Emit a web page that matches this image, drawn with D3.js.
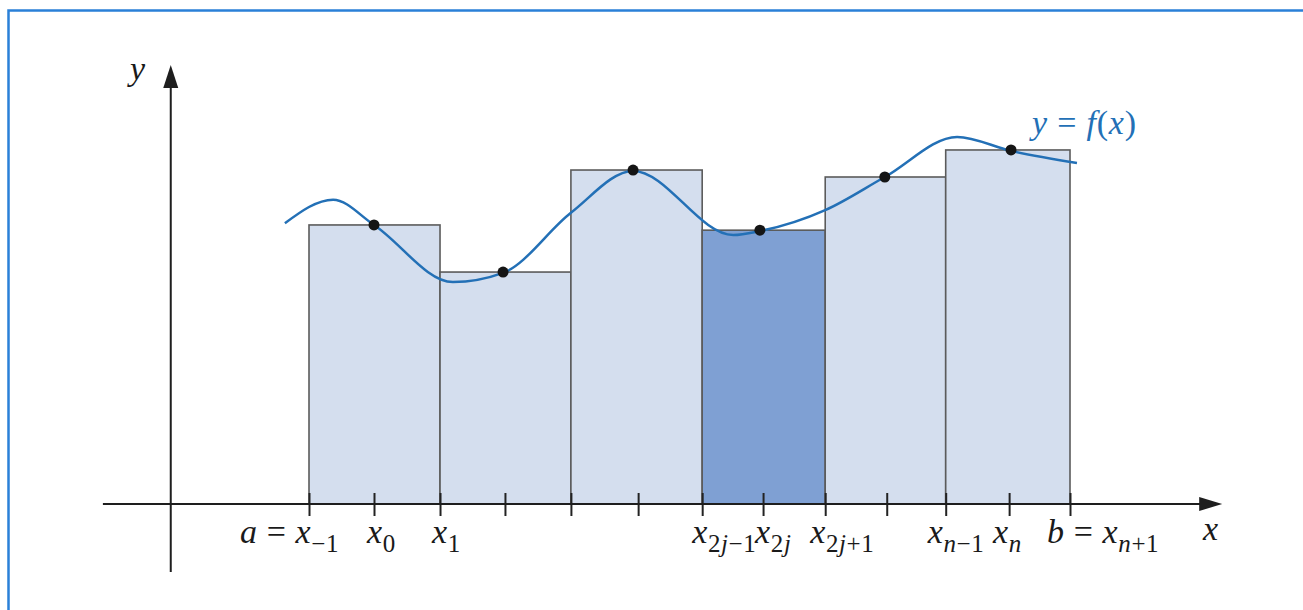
<!DOCTYPE html>
<html>
<head>
<meta charset="utf-8">
<script src="https://cdn.jsdelivr.net/npm/d3@7"></script>
<style>
  html, body { margin: 0; padding: 0; background: #fff; }
  svg { display: block; }
</style>
</head>
<body>
<svg id="chart" width="1303" height="610"></svg>
<script>
// Partition points on the x axis (a = x_-1 ... b = x_n+1)
const xTicks = [0, 1.025, 2.066, 3.09, 4.13, 5.19, 6.20, 7.16, 8.14, 9.11, 10.04, 11.04, 12];
// Rectangle edges and heights (midpoint rule: height = f(midpoint))
const barEdges = [0, 2.066, 4.13, 6.20, 8.14, 10.04, 12];
const barHeights = [6.40, 5.32, 7.66, 6.28, 7.50, 8.12];
const highlightedBar = 3;
// Sample points where f is evaluated
const sampleX = [1.025, 3.06, 5.11, 7.11, 9.08, 11.07];
// The curve y = f(x): end points, extrema and sample points
const curveX = [-0.38, 0.38, 1.025, 2.27, 3.06, 4.13, 5.11, 6.69, 7.11, 8.14, 9.08, 10.22, 11.07, 12.11];
const curveY = [6.44, 6.98, 6.40, 5.09, 5.30, 6.68, 7.64, 6.17, 6.26, 6.74, 7.50, 8.42, 8.10, 7.82];
// Labelled partition points
const labelTicks = [0, 1, 2, 6, 7, 8, 10, 11, 12];
const labelTexts = ["a = x_−1", "x_0", "x_1", "x_2j−1", "x_2j", "x_2j+1", "x_n−1", "x_n", "b = x_n+1"];
const labelDx = [-69, -7, -8, -10, -8, -15, -18, -16, -23];

// Axis extents in data units
const xAxisExtent = [-3.25, 14.4];
const yAxisExtent = [-1.56, 10.07];
const yAxisAt = -2.18;

const svg = d3.select("#chart");
const x = d3.scaleLinear().domain([0, 12]).range([309, 1070]);
const y = d3.scaleLinear().domain([0, 10]).range([504, 68]);

const FONT = "'Liberation Serif', 'Times New Roman', serif";

// Frame
svg.append("rect")
  .attr("x", 8.5).attr("y", 10.5)
  .attr("width", 1400).attr("height", 700)
  .attr("fill", "none")
  .attr("stroke", "#2a80d8")
  .attr("stroke-width", 2.5);

// Rectangles
const bars = barHeights.map((h, i) => ({ x0: barEdges[i], x1: barEdges[i + 1], h, i }));
svg.append("g").selectAll("rect").data(bars).join("rect")
  .attr("x", d => x(d.x0))
  .attr("y", d => y(d.h))
  .attr("width", d => x(d.x1) - x(d.x0))
  .attr("height", d => y(0) - y(d.h))
  .attr("fill", d => d.i === highlightedBar ? "#7fa0d3" : "#d4deee")
  .attr("stroke", "#5b5b5b")
  .attr("stroke-width", 1.6);

// x axis ticks (both sides of the axis)
const xAxis = d3.axisBottom(x).tickValues(xTicks).tickFormat("").tickSizeOuter(0);
const gx = svg.append("g").attr("transform", `translate(0,${y(0)})`).call(xAxis);
gx.select(".domain").remove();
gx.selectAll(".tick line")
  .attr("y1", -11).attr("y2", 12)
  .attr("stroke", "#222").attr("stroke-width", 2);

// Axis lines with arrowheads
const axisColor = "#1e1e1e";
const tipX = x(xAxisExtent[1]), tipY = y(yAxisExtent[1]);
svg.append("line")
  .attr("x1", x(xAxisExtent[0])).attr("x2", tipX - 20)
  .attr("y1", y(0)).attr("y2", y(0))
  .attr("stroke", axisColor).attr("stroke-width", 2);
svg.append("path")
  .attr("d", `M${tipX},${y(0)} L${tipX - 23},${y(0) - 7} L${tipX - 23},${y(0) + 7} Z`)
  .attr("fill", axisColor);
svg.append("line")
  .attr("x1", x(yAxisAt)).attr("x2", x(yAxisAt))
  .attr("y1", y(yAxisExtent[0])).attr("y2", tipY + 20)
  .attr("stroke", axisColor).attr("stroke-width", 2);
svg.append("path")
  .attr("d", `M${x(yAxisAt)},${tipY} L${x(yAxisAt) - 7.5},${tipY + 23} L${x(yAxisAt) + 7.5},${tipY + 23} Z`)
  .attr("fill", axisColor);

// Curve
const pts = curveX.map((v, i) => [v, curveY[i]]);
const line = d3.line().x(d => x(d[0])).y(d => y(d[1])).curve(d3.curveMonotoneX);
svg.append("path")
  .attr("d", line(pts))
  .attr("fill", "none")
  .attr("stroke", "#2370b6")
  .attr("stroke-width", 2.5);

// Sample points on the rectangle tops
svg.append("g").selectAll("circle").data(sampleX.map((v, i) => ({ v, h: barHeights[i] }))).join("circle")
  .attr("cx", d => x(d.v))
  .attr("cy", d => y(d.h))
  .attr("r", 5.5)
  .attr("fill", "#151515");

// Math-style text: letters italic, digits and symbols upright, "_" starts a subscript
function mathText(sel, str, size, subSize, subShift) {
  const [main, sub] = str.split("_");
  const runs = [];
  const push = (s, isSub) => {
    for (const ch of s) {
      const it = /[A-Za-z]/.test(ch);
      const last = runs[runs.length - 1];
      if (last && last.it === it && last.sub === isSub) last.t += ch;
      else runs.push({ t: ch, it, sub: isSub });
    }
  };
  push(main, false);
  if (sub) push(sub, true);
  let shifted = false;
  runs.forEach(r => {
    const ts = sel.append("tspan")
      .attr("font-style", r.it ? "italic" : "normal")
      .attr("font-size", r.sub ? subSize : size)
      .text(r.t);
    if (r.sub && !shifted) { ts.attr("dy", subShift); shifted = true; }
  });
  return sel;
}

// x-axis labels
labelTicks.forEach((ti, k) => {
  const t = svg.append("text")
    .attr("x", x(xTicks[ti]) + labelDx[k])
    .attr("y", 543)
    .attr("font-family", FONT)
    .attr("fill", "#1a1a1a")
    .attr("letter-spacing", 0.6)
    .style("white-space", "pre");
  mathText(t, labelTexts[k], 34, 25, 9);
});

// Axis names
svg.append("text").attr("x", 130).attr("y", 80)
  .attr("font-family", FONT).attr("font-style", "italic").attr("font-size", 34)
  .attr("fill", "#1a1a1a").text("y");
svg.append("text").attr("x", 1203).attr("y", 540)
  .attr("font-family", FONT).attr("font-style", "italic").attr("font-size", 34)
  .attr("fill", "#1a1a1a").text("x");

// Curve label
const fl = svg.append("text").attr("x", 1032).attr("y", 134)
  .attr("font-family", FONT).attr("fill", "#2370b6")
  .attr("letter-spacing", 0.8).style("white-space", "pre");
mathText(fl, "y = f(x)", 34, 25, 0);
</script>
</body>
</html>
